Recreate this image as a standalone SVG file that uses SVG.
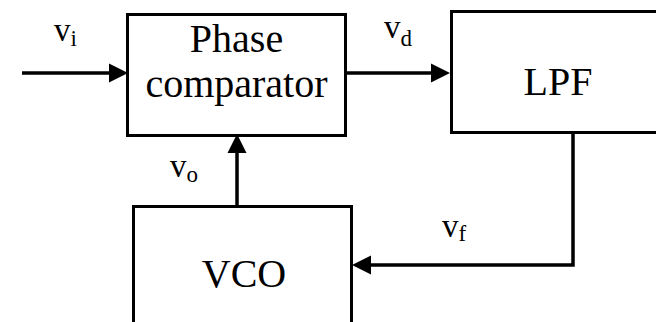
<svg xmlns="http://www.w3.org/2000/svg" width="656" height="322" viewBox="0 0 656 322">
<defs>
<style>
.box{fill:#fff;stroke:#000;stroke-width:3}
.lbl{font-family:"Liberation Serif","Times New Roman",serif;fill:#000}
.big{font-size:40px;text-anchor:middle}
.sig{font-size:33px}
.sub{font-size:23px}
.wire{fill:none;stroke:#000;stroke-width:3.5;marker-end:url(#ah)}
</style>
<marker id="ah" markerUnits="userSpaceOnUse" viewBox="0 0 19 20" refX="0" refY="10" markerWidth="19" markerHeight="20" orient="auto">
<path d="M0,0.5 L19,10 L0,19.5 Z" fill="#000"/>
</marker>
</defs>
<rect width="656" height="322" fill="#fff"/>
<g id="connectors">
<line class="wire" x1="22" y1="73" x2="109" y2="73"/>
<line class="wire" x1="346" y1="73" x2="431" y2="73"/>
<line class="wire" x1="237" y1="206" x2="237" y2="153"/>
<polyline class="wire" points="573,133 573,265 371,265"/>
</g>
<g id="phase-comparator">
<rect class="box" x="127.5" y="14.5" width="218" height="121"/>
<text class="lbl big" x="236.5" y="52">Phase</text>
<text class="lbl big" x="236.5" y="97" font-size="43">comparator</text>
</g>
<g id="lpf">
<rect class="box" x="451.5" y="11.5" width="230" height="121"/>
<text class="lbl big" x="558" y="95">LPF</text>
</g>
<g id="vco">
<rect class="box" x="133.5" y="206.5" width="218" height="130"/>
<text class="lbl big" x="244" y="287">VCO</text>
</g>
<g id="labels">
<text class="lbl sig" x="54" y="41">v<tspan class="sub" dy="5">i</tspan></text>
<text class="lbl sig" x="384" y="38">v<tspan class="sub" dy="8">d</tspan></text>
<text class="lbl sig" x="170" y="177">v<tspan class="sub" dy="5">o</tspan></text>
<text class="lbl sig" x="442" y="237">v<tspan class="sub" dy="4">f</tspan></text>
</g>
</svg>
